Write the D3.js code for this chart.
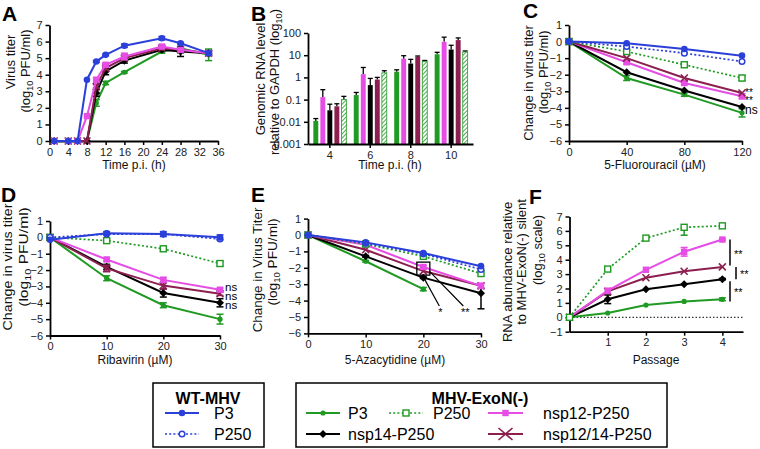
<!DOCTYPE html>
<html><head><meta charset="utf-8">
<script src="https://cdn.jsdelivr.net/npm/d3@7"></script>
<style>body{margin:0;background:#fff} text{font-family:Arial,"Liberation Sans",sans-serif}</style>
</head><body><svg id="c" width="760" height="449"></svg>
<script>
// ---------- DATA ----------
// Panel A: virus titer over time
const aTime = [1, 4, 6, 8, 10, 12, 16, 24, 28, 34];
const aWtP3 = [0, 0, 0, 3.7, 4.8, 5.2, 5.75, 6.2, 5.9, 5.3];
const aExoP3 = [0, 0, 0, 0, 2.3, 3.5, 4.15, 5.4, 5.6, 5.2];
const aNsp14 = [0, 0, 0, 0, 2.9, 4.2, 4.85, 5.5, 5.4, 5.3];
const aNsp12 = [0, 0, 0, 1.5, 3.7, 4.6, 5.1, 5.7, 5.5, 5.3];
const aNsp1214 = [0, 0, 0, 0, 3.3, 4.4, 5.0, 5.6, 5.5, 5.3];
const aWtP3Err = [0, 0, 0, 0, 0.05, 0.05, 0.1, 0.1, 0.05, 0.1];
const aExoP3Err = [0, 0, 0, 0, 0.2, 0.1, 0.05, 0.1, 0.1, 0.35];
const aNsp14Err = [0, 0, 0, 0, 0.2, 0.2, 0.15, 0.1, 0.3, 0.1];
const aNsp12Err = [0, 0, 0, 0, 0.1, 0.1, 0.2, 0.1, 0.1, 0.1];
const aNsp1214Err = [0, 0, 0, 0, 0.1, 0.1, 0.1, 0.1, 0.1, 0.1];

// Panel B: genomic RNA (log scale bars)
const bTime = ["4", "6", "8", "10"];
const bExoP3 = [0.011, 0.16, 1.8, 11];
const bNsp12 = [0.13, 1.4, 7, 40];
const bNsp14 = [0.033, 0.45, 4.2, 18];
const bNsp1214 = [0.05, 0.8, 8.5, 48];
const bExoP250 = [0.1, 1.6, 5.3, 14];
const bExoP3Top = [0.014, 0.21, 2.2, 13.5];
const bNsp12Top = [0.28, 2.8, 9.5, 65];
const bNsp14Top = [0.062, 0.9, 6.5, 28];
const bNsp1214Top = [0.065, 1.0, 9.2, 60];
const bExoP250Top = [0.14, 2.0, 5.8, 15.5];
const bTicks = [0.001, 0.01, 0.1, 1, 10, 100];

// Panel C: 5-Fluorouracil
const cDose = [0, 40, 80, 120];
const cWtP3 = [0, -0.1, -0.45, -0.85];
const cWtP250 = [0, -0.3, -0.7, -1.2];
const cExoP3 = [0, -2.2, -3.2, -4.3];
const cExoP250 = [0, -0.6, -1.4, -2.2];
const cNsp14 = [0, -1.85, -2.95, -3.95];
const cNsp12 = [0, -1.25, -2.5, -3.3];
const cNsp1214 = [0, -1.0, -2.2, -3.1];
const cExoP3Err = [0, 0.15, 0.1, 0.25];
const cExoP250Err = [0, 0.1, 0.15, 0.15];
const cNsp12Err = [0, 0.1, 0.1, 0.15];

// Panel D: Ribavirin
const dDose = [0, 10, 20, 30];
const dWtP3 = [-0.15, 0.25, 0.2, 0.0];
const dWtP250 = [0, 0.2, 0.2, -0.1];
const dExoP3 = [0, -2.5, -4.15, -5.0];
const dExoP250 = [0, -0.2, -0.7, -1.6];
const dNsp14 = [0, -1.8, -3.4, -4.0];
const dNsp12 = [0, -1.35, -2.6, -3.2];
const dNsp1214 = [0, -1.9, -2.95, -3.45];
const dWtP3Err = [0, 0.1, 0.15, 0.15];
const dExoP3Err = [0, 0.15, 0.15, 0.3];
const dExoP250Err = [0, 0.1, 0.15, 0.15];
const dNsp14Err = [0, 0.15, 0.25, 0.25];
const dNsp12Err = [0, 0.1, 0.15, 0.1];
const dNsp1214Err = [0, 0.2, 0.2, 0.1];

// Panel E: 5-Azacytidine
const eDose = [0, 10, 20, 30];
const eWtP3 = [0, -0.45, -1.1, -1.9];
const eWtP250 = [0, -0.5, -1.15, -2.1];
const eExoP3 = [0, -1.6, -3.3, null];
const eExoP250 = [0, -0.55, -1.3, -2.35];
const eNsp14 = [0, -1.3, -2.6, -3.55];
const eNsp12 = [0, -0.6, -1.95, -3.1];
const eNsp1214 = [0, -0.9, -2.2, -3.1];
const eNsp14Err = [0, 0.05, 0.05, [0.95, 0.3]];
const eNsp12Err = [0, 0.05, 0.1, 0.15];
const eExoP3Err = [0, 0.05, 0.1, 0];

// Panel F: RNA abundance vs passage
const fPassage = [0, 1, 2, 3, 4];
const fExoP3 = [0, 0.3, 0.85, 1.1, 1.25];
const fExoP250 = [0, 3.35, 5.5, 6.25, 6.35];
const fNsp14 = [0, 1.25, 1.95, 2.3, 2.65];
const fNsp12 = [0, 1.85, 3.3, 4.55, 5.4];
const fNsp1214 = [0, 1.8, 2.75, 3.2, 3.5];
const fExoP250Err = [0, 0, 0, [0.55, 0], 0];
const fNsp14Err = [0, 0.3, 0, 0, 0.05];
const fNsp12Err = [0, 0, 0, 0.3, 0.05];
const fExoP3Err = [0, 0, 0, 0, 0.1];

// ---------- STYLES ----------
const BLUE = "#2b3fd9", GREEN = "#1f9a22", MAG = "#e54de5", MAROON = "#8c1f4f", BLACK = "#000";
const STY = {
  wtP3: {c: BLUE, dash: null, m: "dot"},
  wtP250: {c: BLUE, dash: "2,2.2", m: "ocircle"},
  exoP3: {c: GREEN, dash: null, m: "sdot"},
  exoP250: {c: GREEN, dash: "2,2.2", m: "osquare"},
  nsp14: {c: BLACK, dash: null, m: "diamond"},
  nsp12: {c: MAG, dash: null, m: "square"},
  nsp1214: {c: MAROON, dash: null, m: "x"}
};

const svg = d3.select("#c");

function marker(g, type, x, y, c) {
  if (type === "dot") g.append("circle").attr("cx", x).attr("cy", y).attr("r", 3.3).attr("fill", c);
  else if (type === "sdot") g.append("circle").attr("cx", x).attr("cy", y).attr("r", 2.6).attr("fill", c);
  else if (type === "ocircle") g.append("circle").attr("cx", x).attr("cy", y).attr("r", 2.8).attr("fill", "#fff").attr("stroke", c).attr("stroke-width", 1.5);
  else if (type === "osquare") g.append("rect").attr("x", x - 3).attr("y", y - 3).attr("width", 6).attr("height", 6).attr("fill", "#fff").attr("stroke", c).attr("stroke-width", 1.4);
  else if (type === "square") g.append("rect").attr("x", x - 3.2).attr("y", y - 3.2).attr("width", 6.4).attr("height", 6.4).attr("fill", c);
  else if (type === "diamond") g.append("path").attr("d", `M${x},${y - 4}L${x + 4},${y}L${x},${y + 4}L${x - 4},${y}Z`).attr("fill", c);
  else if (type === "x") g.append("path").attr("d", `M${x - 3.5},${y - 3.5}L${x + 3.5},${y + 3.5}M${x - 3.5},${y + 3.5}L${x + 3.5},${y - 3.5}`).attr("stroke", c).attr("stroke-width", 1.6);
}

function styleAxis(g) {
  g.select(".domain").attr("stroke", "#000").attr("stroke-width", 1.8);
  g.selectAll(".tick line").attr("stroke", "#000").attr("stroke-width", 1.5);
  g.selectAll(".tick text").attr("font-size", 11).attr("fill", "#222").attr("font-family", "Arial, Liberation Sans, sans-serif");
}

function yLabel(lines) {
  lines.forEach(l => {
    const t = svg.append("text").attr("transform", `translate(${l.x},${l.y}) rotate(-90)`)
      .attr("text-anchor", "middle").attr("font-size", l.fs || 12).attr("fill", "#111");
    if (l.sx) t.attr("transform", `translate(${l.x},${l.y}) rotate(-90) scale(${l.sx},1)`);
    if (l.sub) {
      t.append("tspan").text(l.pre);
      t.append("tspan").text("10").attr("font-size", (l.fs || 12) * 0.7).attr("dy", 3);
      t.append("tspan").text(l.post).attr("dy", -3);
    } else t.text(l.text);
  });
}

function xLabel(text, x, y) {
  svg.append("text").attr("x", x).attr("y", y).attr("text-anchor", "middle").attr("font-size", 12).attr("fill", "#111").text(text);
}

function panelLetter(t, x, y) {
  svg.append("text").attr("x", x).attr("y", y).attr("font-size", 21).attr("font-weight", "bold").text(t);
}

function linePanel(o) {
  const x = d3.scaleLinear().domain(o.xDomain).range([o.x0, o.x1]);
  const y = d3.scaleLinear().domain(o.yDomain).range([o.yBot, o.yTop]);
  const gx = svg.append("g").attr("transform", `translate(0,${o.yBot})`)
    .call(d3.axisBottom(x).tickValues(o.xTicks).tickSize(4).tickSizeOuter(0).tickFormat(d3.format("d")));
  styleAxis(gx);
  const gy = svg.append("g").attr("transform", `translate(${o.x0},0)`)
    .call(d3.axisLeft(y).tickValues(o.yTicks).tickSize(4).tickSizeOuter(0).tickFormat(d3.format("d")));
  styleAxis(gy);
  if (o.zeroLine) {
    svg.append("line").attr("x1", o.x0).attr("x2", o.x1).attr("y1", y(0)).attr("y2", y(0))
      .attr("stroke", "#000").attr("stroke-width", 1).attr("stroke-dasharray", "1.5,2");
  }
  o.series.forEach(s => {
    const st = STY[s.key];
    const pts = o.xVals.map((xv, i) => ({x: xv, y: s.vals[i], e: s.err ? s.err[i] : 0})).filter(p => p.y !== null);
    const g = svg.append("g");
    g.append("path").datum(pts)
      .attr("d", d3.line().x(p => x(p.x)).y(p => y(p.y)))
      .attr("fill", "none").attr("stroke", st.c).attr("stroke-width", st.dash ? 1.7 : 2)
      .attr("stroke-dasharray", st.dash);
    pts.forEach(p => {
      if (p.e) {
        const dn = Array.isArray(p.e) ? p.e[0] : p.e, up = Array.isArray(p.e) ? p.e[1] : p.e;
        const px = x(p.x);
        const y1 = y(p.y + up), y2 = y(p.y - dn);
        g.append("line").attr("x1", px).attr("x2", px).attr("y1", y1).attr("y2", y2).attr("stroke", st.c).attr("stroke-width", 1.5);
        if (up > 0) g.append("line").attr("x1", px - 3.5).attr("x2", px + 3.5).attr("y1", y1).attr("y2", y1).attr("stroke", st.c).attr("stroke-width", 1.5);
        if (dn > 0) g.append("line").attr("x1", px - 3.5).attr("x2", px + 3.5).attr("y1", y2).attr("y2", y2).attr("stroke", st.c).attr("stroke-width", 1.5);
      }
      marker(g, st.m, x(p.x), y(p.y), st.c);
    });
  });
  return {x, y};
}

// ---------- PANEL A ----------
panelLetter("A", 2, 21);
linePanel({
  x0: 49.5, x1: 218, yTop: 25, yBot: 141, xDomain: [0, 36], yDomain: [0, 7],
  xTicks: d3.range(0, 37, 4), yTicks: d3.range(0, 8), xVals: aTime,
  series: [
    {key: "exoP3", vals: aExoP3, err: aExoP3Err},
    {key: "nsp14", vals: aNsp14, err: aNsp14Err},
    {key: "nsp1214", vals: aNsp1214, err: aNsp1214Err},
    {key: "nsp12", vals: aNsp12, err: aNsp12Err},
    {key: "wtP3", vals: aWtP3, err: aWtP3Err}
  ]
});
yLabel([{x: 15, y: 62, text: "Virus titer", fs: 13}, {x: 30, y: 71, sub: true, pre: "(log", post: " PFU/ml)", fs: 13}]);
xLabel("Time p.i. (h)", 134, 169);

// ---------- PANEL B ----------
panelLetter("B", 251, 21);
(function () {
  const x = d3.scaleBand().domain(bTime).range([308, 473]).paddingInner(0.08).paddingOuter(0.08);
  const y = d3.scaleLog().domain([0.001, 100]).range([144, 33]);
  const keys = ["exoP3", "nsp12", "nsp14", "nsp1214", "exoP250"];
  const vals = {exoP3: bExoP3, nsp12: bNsp12, nsp14: bNsp14, nsp1214: bNsp1214, exoP250: bExoP250};
  const tops = {exoP3: bExoP3Top, nsp12: bNsp12Top, nsp14: bNsp14Top, nsp1214: bNsp1214Top, exoP250: bExoP250Top};
  const xi = d3.scaleBand().domain(keys).range([0, x.bandwidth()]).padding(0.3);
  const defs = svg.append("defs");
  const pat = defs.append("pattern").attr("id", "hatch").attr("patternUnits", "userSpaceOnUse")
    .attr("width", 3).attr("height", 3).attr("patternTransform", "rotate(45)");
  pat.append("rect").attr("width", 3).attr("height", 3).attr("fill", "#fff");
  pat.append("line").attr("x1", 0).attr("y1", 0).attr("x2", 0).attr("y2", 3).attr("stroke", GREEN).attr("stroke-width", 1.6);
  bTime.forEach((t, i) => {
    keys.forEach(k => {
      const bx = x(t) + xi(k), bw = xi.bandwidth(), v = vals[k][i], tp = tops[k][i];
      const cx = bx + bw / 2;
      svg.append("line").attr("x1", cx).attr("x2", cx).attr("y1", y(v)).attr("y2", y(tp)).attr("stroke", "#000").attr("stroke-width", 1.3);
      svg.append("line").attr("x1", cx - 2.5).attr("x2", cx + 2.5).attr("y1", y(tp)).attr("y2", y(tp)).attr("stroke", "#000").attr("stroke-width", 1.3);
      const r = svg.append("rect").attr("x", bx).attr("y", y(v)).attr("width", bw).attr("height", 144 - y(v));
      if (k === "exoP250") r.attr("fill", "url(#hatch)").attr("stroke", GREEN).attr("stroke-width", 0.8);
      else r.attr("fill", STY[k].c);
    });
  });
  const gx = svg.append("g").attr("transform", "translate(0,144)").call(d3.axisBottom(x).tickSize(4).tickSizeOuter(0));
  styleAxis(gx);
  const gy = svg.append("g").attr("transform", "translate(308,0)")
    .call(d3.axisLeft(y).tickValues(bTicks).tickSize(4).tickSizeOuter(0).tickFormat(d => d >= 1 ? d3.format("d")(d) : String(d)));
  styleAxis(gy);
})();
yLabel([{x: 265, y: 79, text: "Genomic RNA level", fs: 13}, {x: 279, y: 82, sub: true, pre: "relative to GAPDH (log", post: ")", fs: 13}]);
xLabel("Time p.i. (h)", 390, 169);

// ---------- PANEL C ----------
panelLetter("C", 523, 18);
linePanel({
  x0: 569, x1: 742, yTop: 25, yBot: 141, xDomain: [0, 120], yDomain: [-6, 1],
  xTicks: cDose, yTicks: d3.range(-6, 2), xVals: cDose,
  series: [
    {key: "exoP3", vals: cExoP3, err: cExoP3Err},
    {key: "nsp14", vals: cNsp14},
    {key: "nsp12", vals: cNsp12, err: cNsp12Err},
    {key: "nsp1214", vals: cNsp1214},
    {key: "exoP250", vals: cExoP250, err: cExoP250Err},
    {key: "wtP250", vals: cWtP250},
    {key: "wtP3", vals: cWtP3}
  ]
});
yLabel([{x: 533, y: 83, text: "Change in virus titer", fs: 13}, {x: 548, y: 72, sub: true, pre: "(log", post: " PFU/ml)", fs: 13}]);
xLabel("5-Fluorouracil (\u00b5M)", 655, 169);
svg.append("text").attr("x", 745).attr("y", 96).attr("font-size", 10).text("**");
svg.append("text").attr("x", 745).attr("y", 104).attr("font-size", 10).text("**");
svg.append("text").attr("x", 745).attr("y", 114).attr("font-size", 12).text("ns");

// ---------- PANEL D ----------
panelLetter("D", 1, 202);
linePanel({
  x0: 50, x1: 220, yTop: 221, yBot: 335.5, xDomain: [0, 30], yDomain: [-6, 1],
  xTicks: dDose, yTicks: d3.range(-6, 2), xVals: dDose,
  series: [
    {key: "exoP3", vals: dExoP3, err: dExoP3Err},
    {key: "nsp14", vals: dNsp14, err: dNsp14Err},
    {key: "nsp1214", vals: dNsp1214, err: dNsp1214Err},
    {key: "nsp12", vals: dNsp12, err: dNsp12Err},
    {key: "exoP250", vals: dExoP250, err: dExoP250Err},
    {key: "wtP250", vals: dWtP250},
    {key: "wtP3", vals: dWtP3, err: dWtP3Err}
  ]
});
yLabel([{x: 12, y: 267, text: "Change in virus titer", fs: 13, sx: 1.1}, {x: 28, y: 257, sub: true, pre: "(log", post: " PFU/ml)", fs: 13, sx: 1.2}]);
xLabel("Ribavirin (\u00b5M)", 135, 364);
svg.append("text").attr("x", 225).attr("y", 291).attr("font-size", 11.5).text("ns");
svg.append("text").attr("x", 225).attr("y", 300).attr("font-size", 11.5).text("ns");
svg.append("text").attr("x", 225).attr("y", 309).attr("font-size", 11.5).text("ns");

// ---------- PANEL E ----------
panelLetter("E", 251, 202);
const pe = linePanel({
  x0: 308, x1: 481, yTop: 218.6, yBot: 333.4, xDomain: [0, 30], yDomain: [-6, 1],
  xTicks: eDose, yTicks: d3.range(-6, 2), xVals: eDose,
  series: [
    {key: "exoP3", vals: eExoP3, err: eExoP3Err},
    {key: "nsp14", vals: eNsp14, err: eNsp14Err},
    {key: "nsp1214", vals: eNsp1214},
    {key: "nsp12", vals: eNsp12, err: eNsp12Err},
    {key: "exoP250", vals: eExoP250},
    {key: "wtP250", vals: eWtP250},
    {key: "wtP3", vals: eWtP3}
  ]
});
(function () {
  const bx = pe.x(20), by = pe.y(-2.05);
  svg.append("rect").attr("x", bx - 6.5).attr("y", by - 6.5).attr("width", 13).attr("height", 13)
    .attr("fill", "none").attr("stroke", "#000").attr("stroke-width", 1.3);
  svg.append("line").attr("x1", bx - 1).attr("y1", by + 6.5).attr("x2", bx + 16).attr("y2", 306).attr("stroke", "#000").attr("stroke-width", 1.2);
  svg.append("line").attr("x1", bx + 6.5).attr("y1", by + 3).attr("x2", bx + 40).attr("y2", 306).attr("stroke", "#000").attr("stroke-width", 1.2);
  svg.append("text").attr("x", bx + 17).attr("y", 316).attr("text-anchor", "middle").attr("font-size", 11).text("*");
  svg.append("text").attr("x", bx + 42).attr("y", 316).attr("text-anchor", "middle").attr("font-size", 11).text("**");
})();
yLabel([{x: 262, y: 270, text: "Change in Virus Titer", fs: 13, sx: 1.03}, {x: 277, y: 262, sub: true, pre: "(log", post: " PFU/ml)", fs: 13, sx: 1.05}]);
xLabel("5-Azacytidine (\u00b5M)", 395, 364);

// ---------- PANEL F ----------
panelLetter("F", 529, 204);
const pf = linePanel({
  x0: 569.5, x1: 743, yTop: 216.5, yBot: 331.7, xDomain: [0, 4.54], yDomain: [-1, 7],
  xTicks: [1, 2, 3, 4], yTicks: d3.range(-1, 8), xVals: fPassage, zeroLine: true,
  series: [
    {key: "exoP3", vals: fExoP3, err: fExoP3Err},
    {key: "nsp14", vals: fNsp14, err: fNsp14Err},
    {key: "nsp1214", vals: fNsp1214},
    {key: "nsp12", vals: fNsp12, err: fNsp12Err},
    {key: "exoP250", vals: fExoP250, err: fExoP250Err}
  ]
});
(function () {
  const sig = [[5.4, 3.6, 0], [3.5, 2.65, 1], [2.5, 1.1, 0]];
  sig.forEach(([a, b, off]) => {
    const lx = 730 + off * 6;
    svg.append("line").attr("x1", lx).attr("x2", lx).attr("y1", pf.y(a)).attr("y2", pf.y(b)).attr("stroke", "#000").attr("stroke-width", 1.5);
    svg.append("text").attr("x", lx + 4).attr("y", (pf.y(a) + pf.y(b)) / 2 + 5).attr("font-size", 11).text("**");
  });
})();
yLabel([{x: 512, y: 272, text: "RNA abundance relative", fs: 13}, {x: 526, y: 262, text: "to MHV-ExoN(-) silent", fs: 13},
        {x: 542, y: 250, sub: true, pre: "(log", post: " scale)", fs: 13}]);
xLabel("Passage", 656, 364);

// ---------- LEGEND ----------
function legendItem(key, x1, x2, y, label, tx) {
  const st = STY[key];
  svg.append("line").attr("x1", x1).attr("x2", x2).attr("y1", y).attr("y2", y).attr("stroke", st.c)
    .attr("stroke-width", st.dash ? 1.7 : 2).attr("stroke-dasharray", st.dash);
  if (key === "nsp1214") {
    const cx = (x1 + x2) / 2;
    svg.append("path").attr("d", `M${cx - 7},${y - 6}L${cx + 7},${y + 6}M${cx - 7},${y + 6}L${cx + 7},${y - 6}`).attr("stroke", st.c).attr("stroke-width", 1.6);
  } else marker(svg, st.m, (x1 + x2) / 2, y, st.c);
  svg.append("text").attr("x", tx).attr("y", y + 5.5).attr("font-size", 16).text(label);
}
svg.append("rect").attr("x", 153).attr("y", 383).attr("width", 111).attr("height", 64).attr("fill", "none").attr("stroke", "#000").attr("stroke-width", 1.5);
svg.append("text").attr("x", 208).attr("y", 404).attr("text-anchor", "middle").attr("font-size", 16).attr("font-weight", "bold").text("WT-MHV");
legendItem("wtP3", 165, 199, 413, "P3", 214);
legendItem("wtP250", 165, 199, 434, "P250", 214);

svg.append("rect").attr("x", 296).attr("y", 383).attr("width", 371).attr("height", 64).attr("fill", "none").attr("stroke", "#000").attr("stroke-width", 1.5);
svg.append("text").attr("x", 480).attr("y", 404).attr("text-anchor", "middle").attr("font-size", 16).attr("font-weight", "bold").text("MHV-ExoN(-)");
legendItem("exoP3", 306, 340, 413, "P3", 348);
legendItem("exoP250", 389, 423, 413, "P250", 433);
legendItem("nsp12", 488, 523, 413, "nsp12-P250", 543);
legendItem("nsp14", 306, 340, 434, "nsp14-P250", 348);
legendItem("nsp1214", 488, 523, 434, "nsp12/14-P250", 543);
</script></body></html>
